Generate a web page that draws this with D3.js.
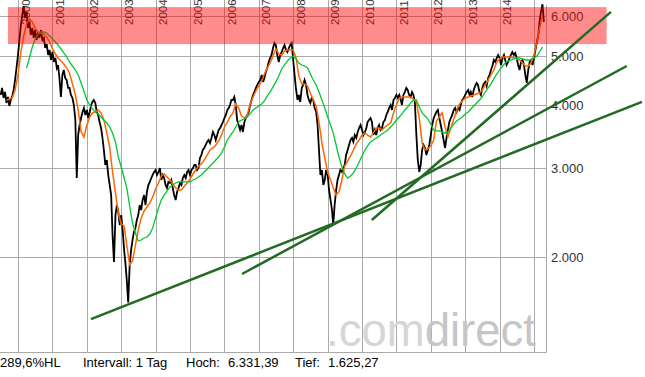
<!DOCTYPE html>
<html><head><meta charset="utf-8">
<script src="https://cdn.jsdelivr.net/npm/d3@7"></script>
<style>body{margin:0;background:#fff}svg{display:block}text{font-family:"Liberation Sans",Arial,sans-serif}</style>
</head><body><svg id="c" width="645" height="377"></svg>
<script>
// half-monthly closes from Jul 1999 (1st / 16th of each month)
const priceValues = [
4187,4323,4130,4244,4037,4149,3982,4092,4168,4283,4483,4735,5024,5380,5761,6030,6281,5948,6112,5682,
5841,5504,5682,5430,5630,5380,5579,5430,5630,5380,5430,5187,5282,5024,5140,4911,5093,4867,4956,4735,
4800,4524,4149,4586,4692,4524,4483,4323,4323,4187,4130,4000,3735,2867,3488,3651,3769,3875,3946,3822,
3910,3769,3875,4000,4055,4092,4037,3875,3822,3701,3601,3441,3258,3043,3113,2907,2777,2653,2211,1955,
2422,2535,2456,2314,2422,2262,2064,1929,1801,1625,1929,2064,2161,2242,2283,2368,2422,2535,2478,2593,
2653,2535,2690,2777,2816,2867,2907,2947,2974,2907,2947,3001,2841,2907,2867,2777,2740,2816,2803,2841,
2740,2653,2593,2690,2740,2803,2777,2867,2907,2867,2947,2974,2907,2974,3001,3043,3043,2974,3001,3141,
3184,3258,3288,3333,3379,3410,3364,3441,3537,3488,3410,3488,3569,3601,3651,3701,3769,3822,3910,3946,
4000,4092,4092,4149,4000,3735,3651,3569,3651,3537,3701,3769,3822,3875,4000,4092,4187,4244,4323,4382,
4443,4483,4586,4443,4524,4650,4735,4867,4956,5024,5187,5306,5258,5024,4867,5024,5093,5187,5258,5140,
5093,5187,5258,5306,4911,4586,4283,4092,4187,4055,4323,4382,4483,4382,4187,4092,4037,4130,4092,3946,
3875,3651,3258,2907,2974,2777,2841,2974,2907,2714,2593,2478,2314,2535,2714,2841,2907,2974,2947,3001,
3043,3184,3258,3333,3410,3441,3379,3488,3441,3537,3601,3651,3569,3488,3537,3601,3701,3735,3769,3701,
3488,3569,3488,3601,3651,3569,3601,3701,3735,3822,3875,3946,4000,3910,4092,4130,4187,4130,4187,4092,
4000,4187,4244,4323,4283,4187,4149,4244,4187,4055,3488,3113,2947,3043,3258,3333,3288,3184,3258,3333,
3488,3651,3769,3822,3875,3910,3769,3651,3537,3410,3288,3441,3569,3701,3769,3822,3910,3946,3875,3946,
3910,4018,4092,4130,4187,4244,4283,4187,4244,4149,4283,4362,4423,4382,4244,4187,4323,4403,4443,4362,
4524,4586,4692,4778,4911,4867,4956,5024,4956,4800,4956,5024,4911,4800,4867,4956,5024,5093,5024,5070,
4956,4800,4692,4867,4911,4800,4586,4423,4692,4867,4911,4800,4956,5140,5331,5504,5841,6112,6331,5841
];
// 38-day average, monthly from Sep 1999
const ma38Values = [
4092,4111,4130,4283,4586,5093,5479,5787,5921,5841,5682,5579,5554,5529,5455,5331,5164,5047,4956,4889,
4822,4735,4628,4403,4187,3910,3537,3457,3651,3787,3857,3875,3910,3857,3735,3521,3288,2947,2677,2444,
2325,2304,2112,1929,1964,2112,2262,2390,2467,2512,2559,2629,2727,2803,2894,2920,2881,2841,2790,2740,
2714,2714,2765,2803,2854,2920,2974,3029,3057,3113,3184,3258,3288,3333,3395,3488,3618,3701,3787,3857,
4018,3946,3804,3769,3822,4018,4149,4264,4362,4463,4607,4735,4844,5001,5164,5047,5024,5117,5140,5140,
5140,4956,4565,4403,4403,4362,4225,4092,3982,3701,3364,3141,2947,2841,2740,2653,2690,2841,3029,3099,
3170,3258,3349,3410,3488,3521,3488,3457,3521,3601,3601,3569,3618,3651,3685,3857,4000,4130,4149,4149,
4149,4149,4111,4055,3769,3364,3258,3273,3318,3410,3718,3787,3857,3618,3457,3601,3752,3892,4018,4074,
4130,4149,4168,4187,4206,4225,4283,4382,4483,4586,4692,4867,4934,4979,4979,4979,4979,4956,4934,4911,
4844,4778,4778,4844,5024,5331,5682,6030
];
// 200-day average, monthly from Apr 2000
const ma200Values = [
4735,4956,5211,5405,5529,5579,5579,5554,5479,5405,5331,5258,5164,5070,4979,4867,4778,4692,4586,4423,
4264,4092,4000,3928,3875,3840,3787,3735,3685,3618,3521,3379,3155,3015,2867,2740,2523,2335,2231,2151,
2161,2181,2191,2221,2283,2390,2501,2593,2653,2702,2752,2777,2803,2816,2816,2816,2816,2816,2841,2854,
2881,2907,2947,2987,3029,3071,3113,3155,3214,3303,3410,3472,3537,3618,3701,3735,3752,3787,3840,3910,
3946,3982,4018,4074,4168,4244,4343,4443,4565,4714,4800,4889,4956,5001,4934,4844,4800,4778,4735,4607,
4483,4382,4244,4092,3946,3787,3651,3521,3333,3155,3015,2920,2867,2894,2934,3001,3085,3170,3258,3318,
3379,3410,3441,3472,3505,3537,3569,3618,3668,3735,3787,3840,3910,3964,4037,4092,4092,3964,3857,3804,
3752,3668,3569,3553,3553,3537,3521,3537,3601,3668,3718,3752,3787,3840,3875,3928,3982,4037,4092,4149,
4244,4323,4403,4504,4607,4692,4778,4844,4889,4911,4934,4956,4956,4934,4911,4911,4911,4956,5001,5093,
5211
];
const yearTicks = [2000,2001,2002,2003,2004,2005,2006,2007,2008,2009,2010,2011,2012,2013,2014,2015];
const yearLabels = [2000,2001,2002,2003,2004,2005,2006,2007,2008,2009,2010,2011,2012,2013,2014];
const valueTicks = [2000,3000,4000,5000,6000];
const bandRange = [5280, 6250];
const bandDates = ["1999-09-16","2017-02-10"];
const trendLines = [
  {from:["2002-02-14",1507], to:["2018-02-20",4056]},
  {from:["2006-07-06",1851], to:["2017-09-12",4778]},
  {from:["2010-04-15",2368], to:["2017-03-28",6114]}
];
const footer = [["289,6%HL",0],["Intervall: 1 Tag",83],["Hoch:",186],["6.331,39",228],["Tief:",295],["1.625,27",328]];

const svg = d3.select("#c");
const x = d3.scaleTime().domain([new Date(2000,0,1), new Date(2015,0,1)]).range([18, 534]);
const y = d3.scaleLog().domain([2000, 6000]).range([257, 257 - 505*Math.log10(3)]);
const plotRight = 546, plotBottom = 352;
const pd = i => new Date(1999, 6 + Math.floor(i/2), i % 2 ? 16 : 1);
const price = priceValues.map((v,i)=>({d:pd(i), v}));
const ma38 = ma38Values.map((v,i)=>({d:new Date(1999, 8+i, 1), v}));
const ma200 = ma200Values.map((v,i)=>({d:new Date(2000, 3+i, 1), v}));

// grid
const g = svg.append("g").attr("stroke","#a9a9a9").attr("stroke-width",1);
yearTicks.forEach(yr=>{const px=Math.round(x(new Date(yr,0,1)))+0.5;
  g.append("line").attr("x1",px).attr("x2",px).attr("y1",0).attr("y2",plotBottom);});
valueTicks.forEach(v=>{const py=Math.round(y(v))+0.5;
  g.append("line").attr("x1",0).attr("x2",plotRight).attr("y1",py).attr("y2",py);});
g.append("line").attr("x1",0).attr("x2",plotRight+0.5).attr("y1",plotBottom+0.5).attr("y2",plotBottom+0.5);
g.append("line").attr("x1",plotRight+0.5).attr("x2",plotRight+0.5).attr("y1",5).attr("y2",plotBottom+0.5);

// right axis labels
valueTicks.forEach(v=>{svg.append("text").attr("x",551).attr("y",y(v)).attr("dy","0.36em")
  .attr("font-size",13).attr("fill","#333").text(d3.format(",")(v).replace(/,/g,"."));});
// year labels
yearLabels.forEach(yr=>{const px=x(new Date(yr,0,1))+11.5;
  svg.append("text").attr("transform",`translate(${px},25) rotate(-90)`).attr("font-size",11.5)
   .attr("fill","#333").text(yr);});

// watermark
const wm = svg.append("text").attr("x",326).attr("y",346).attr("font-size",46)
  .attr("textLength",210).attr("lengthAdjust","spacingAndGlyphs");
wm.append("tspan").attr("fill","#d6d6d6").text(".com");
wm.append("tspan").attr("fill","#c6c6c6").text("direct");

const line = d3.line().x(d=>x(d.d)).y(d=>y(d.v));
svg.append("path").datum(price).attr("d",line).attr("fill","none").attr("stroke","#000").attr("stroke-width",1.8);
svg.append("path").datum(ma38).attr("d",line).attr("fill","none").attr("stroke","#ff6600").attr("stroke-width",1.5);
svg.append("path").datum(ma200).attr("d",line).attr("fill","none").attr("stroke","#00c832").attr("stroke-width",1.3);

// band
svg.append("rect").attr("x",x(new Date(bandDates[0]))).attr("width",x(new Date(bandDates[1]))-x(new Date(bandDates[0])))
  .attr("y",y(bandRange[1])).attr("height",y(bandRange[0])-y(bandRange[1])).attr("fill","red").attr("opacity",0.45);

// trend lines
trendLines.forEach(t=>{svg.append("line").attr("x1",x(new Date(t.from[0]))).attr("y1",y(t.from[1]))
  .attr("x2",x(new Date(t.to[0]))).attr("y2",y(t.to[1])).attr("stroke","#236b23").attr("stroke-width",2.5);});

// footer
footer.forEach(([s,px])=>svg.append("text").attr("x",px).attr("y",367).attr("font-size",13).attr("fill","#000").text(s));
</script></body></html>
